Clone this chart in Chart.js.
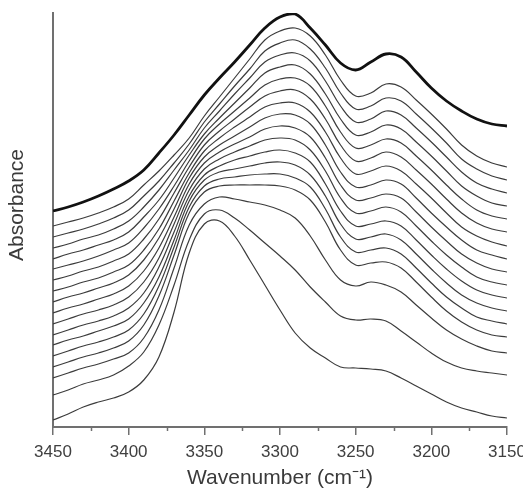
<!DOCTYPE html>
<html>
<head>
<meta charset="utf-8">
<script src="https://cdn.jsdelivr.net/npm/chart.js@4/dist/chart.umd.min.js"></script>
<style>
html,body{margin:0;padding:0;background:#fff;overflow:hidden;}
#wrap{width:523px;height:491px;}
</style>
</head>
<body>
<div id="wrap"><canvas id="c" width="523" height="491"></canvas></div>
<script>
// Wavenumber grid (cm^-1), high to low as plotted
const wavenumbers = [3450,3440,3430,3420,3410,3400,3390,3380,3370,3360,3350,3340,3330,3320,3310,3300,3290,3280,3270,3260,3250,3240,3230,3220,3210,3200,3190,3180,3170,3160,3150];

// Absorbance (arbitrary units), one array per spectrum, top (thick) to bottom
const s01 = [216,220,225,231,238,246,257,274,292,312,332,349,365,382,399,410,413,399,382,364,357,365,373,370,355,339,326,316,308,303,301];
const s02 = [201,205,209,214,220,228,242,256,272,289,311,330,349,368,387,396,399,391,372,347,331,334,343,340,327,313,298,282,271,264,260];
const s03 = [190,194,198,203,209,217,231,246,264,283,305,323,341,358,376,384,387,378,359,334,318,321,329,326,313,299,284,268,258,251,247];
const s04 = [179,183,188,192,198,206,220,237,257,277,299,316,333,349,365,372,374,366,346,321,305,308,316,312,299,285,270,255,244,238,234];
const s05 = [168,173,177,182,187,195,210,227,249,272,293,309,324,339,354,360,362,353,333,308,292,295,302,298,285,271,256,241,231,224,221];
const s06 = [158,162,166,171,177,184,199,218,241,266,288,303,316,329,342,348,349,341,321,295,279,282,288,284,271,257,242,228,217,211,208];
const s07 = [147,151,156,160,166,173,188,208,234,260,282,296,308,320,331,336,337,328,308,282,266,269,275,270,257,243,228,214,204,198,195];
const s08 = [136,140,145,149,155,162,177,198,226,254,276,289,300,310,320,324,324,315,295,269,253,256,261,256,243,229,214,200,191,185,181];
const s09 = [125,130,134,139,144,152,167,189,218,249,270,282,291,300,309,313,312,303,282,255,240,242,247,243,229,214,200,187,177,172,168];
const s10 = [114,119,123,128,133,141,156,179,210,243,264,275,283,290,298,301,299,290,269,242,227,229,233,229,215,200,186,173,164,158,155];
const s11 = [103,108,113,117,122,130,145,169,203,237,258,268,275,281,287,289,287,277,256,229,214,216,220,215,201,186,172,160,150,145,142];
const s12 = [92,97,102,106,111,119,134,160,195,231,252,261,267,271,275,277,274,265,243,216,201,203,206,201,187,172,158,146,137,132,129];
const s13 = [82,87,91,96,101,108,124,150,187,226,247,255,258,261,264,265,262,252,231,203,188,190,193,187,173,158,144,132,124,119,116];
const s14 = [71,76,81,85,90,97,113,141,180,220,241,248,250,252,253,253,249,240,218,190,175,177,179,173,159,144,130,119,110,106,103];
const s15 = [60,65,70,74,79,86,102,131,172,214,235,241,242,242,242,241,237,227,205,177,162,164,165,159,145,130,116,105,97,92,90];
const s16 = [49,54,59,63,68,74,89,117,159,202,223,230,228,225,222,217,209,191,167,147,141,145,142,135,122,109,97,88,81,76,74];
const s17 = [32,37,43,47,52,61,75,102,142,187,213,217,209,197,184,171,157,140,125,111,107,108,106,96,85,74,65,59,56,54,52];
const s18 = [7,13,20,25,29,35,47,70,115,174,203,206,191,167,142,117,94,79,69,60,59,58,56,49,41,33,25,19,15,11,9];

const spectra = [s01,s02,s03,s04,s05,s06,s07,s08,s09,s10,s11,s12,s13,s14,s15,s16,s17,s18];
const minorTicks = [3425,3375,3325,3275,3225,3175];
const xTitle = 'Wavenumber (cm\u207B\u00B9)';
const yTitle = 'Absorbance';

const FONT = '"Liberation Sans", Arial, Helvetica, sans-serif';

const datasets = spectra.map((arr, i) => ({
  data: arr.map((v, j) => ({x: wavenumbers[j], y: v})),
  borderColor: i === 0 ? '#111111' : '#3c3c3c',
  borderWidth: i === 0 ? 2.8 : 1.2,
  pointRadius: 0,
  fill: false,
  tension: 0.4,
  order: i === 0 ? 0 : 1
}));

const decor = {
  id: 'decor',
  afterDraw(chart) {
    const ctx = chart.ctx, xs = chart.scales.x, a = chart.chartArea;
    ctx.save();
    ctx.strokeStyle = '#707070';
    ctx.lineWidth = 1.5;
    minorTicks.forEach(w => {
      const px = Math.round(xs.getPixelForValue(w)) + 0.5;
      ctx.beginPath();
      ctx.moveTo(px, a.bottom);
      ctx.lineTo(px, a.bottom + 4);
      ctx.stroke();
    });
    ctx.fillStyle = '#3a3a3a';
    ctx.font = '21px ' + FONT;
    ctx.textAlign = 'center';
    ctx.textBaseline = 'middle';
    ctx.translate(17, 205);
    ctx.rotate(-Math.PI / 2);
    ctx.fillText(yTitle, 0, 0);
    ctx.restore();
  }
};

new Chart(document.getElementById('c'), {
  type: 'line',
  data: { datasets },
  options: {
    responsive: false,
    animation: false,
    events: [],
    layout: { padding: { top: 13, left: 0, right: 0, bottom: 0 } },
    plugins: { legend: { display: false }, tooltip: { enabled: false }, title: { display: false } },
    scales: {
      x: {
        type: 'linear',
        reverse: true,
        min: 3150,
        max: 3450,
        afterFit(s) { s.height = 64; s.paddingRight = 16; s.paddingLeft = 0; },
        ticks: { stepSize: 50, autoSkip: false, maxRotation: 0, color: '#404040', padding: 7,
                 font: { family: FONT, size: 17 }, callback: v => String(v) },
        grid: { drawOnChartArea: false, drawTicks: true, tickLength: 8, color: '#707070', lineWidth: 1.5 },
        border: { display: true, color: '#707070', width: 2 },
        title: { display: true, text: xTitle, color: '#3a3a3a', font: { family: FONT, size: 21 }, padding: { top: 2, bottom: 0 } }
      },
      y: {
        type: 'linear',
        min: 0,
        max: 414,
        afterFit(s) { s.width = 53; },
        ticks: { display: false },
        grid: { display: false },
        border: { display: true, color: '#707070', width: 2 }
      }
    }
  },
  plugins: [decor]
});
</script>
</body>
</html>
